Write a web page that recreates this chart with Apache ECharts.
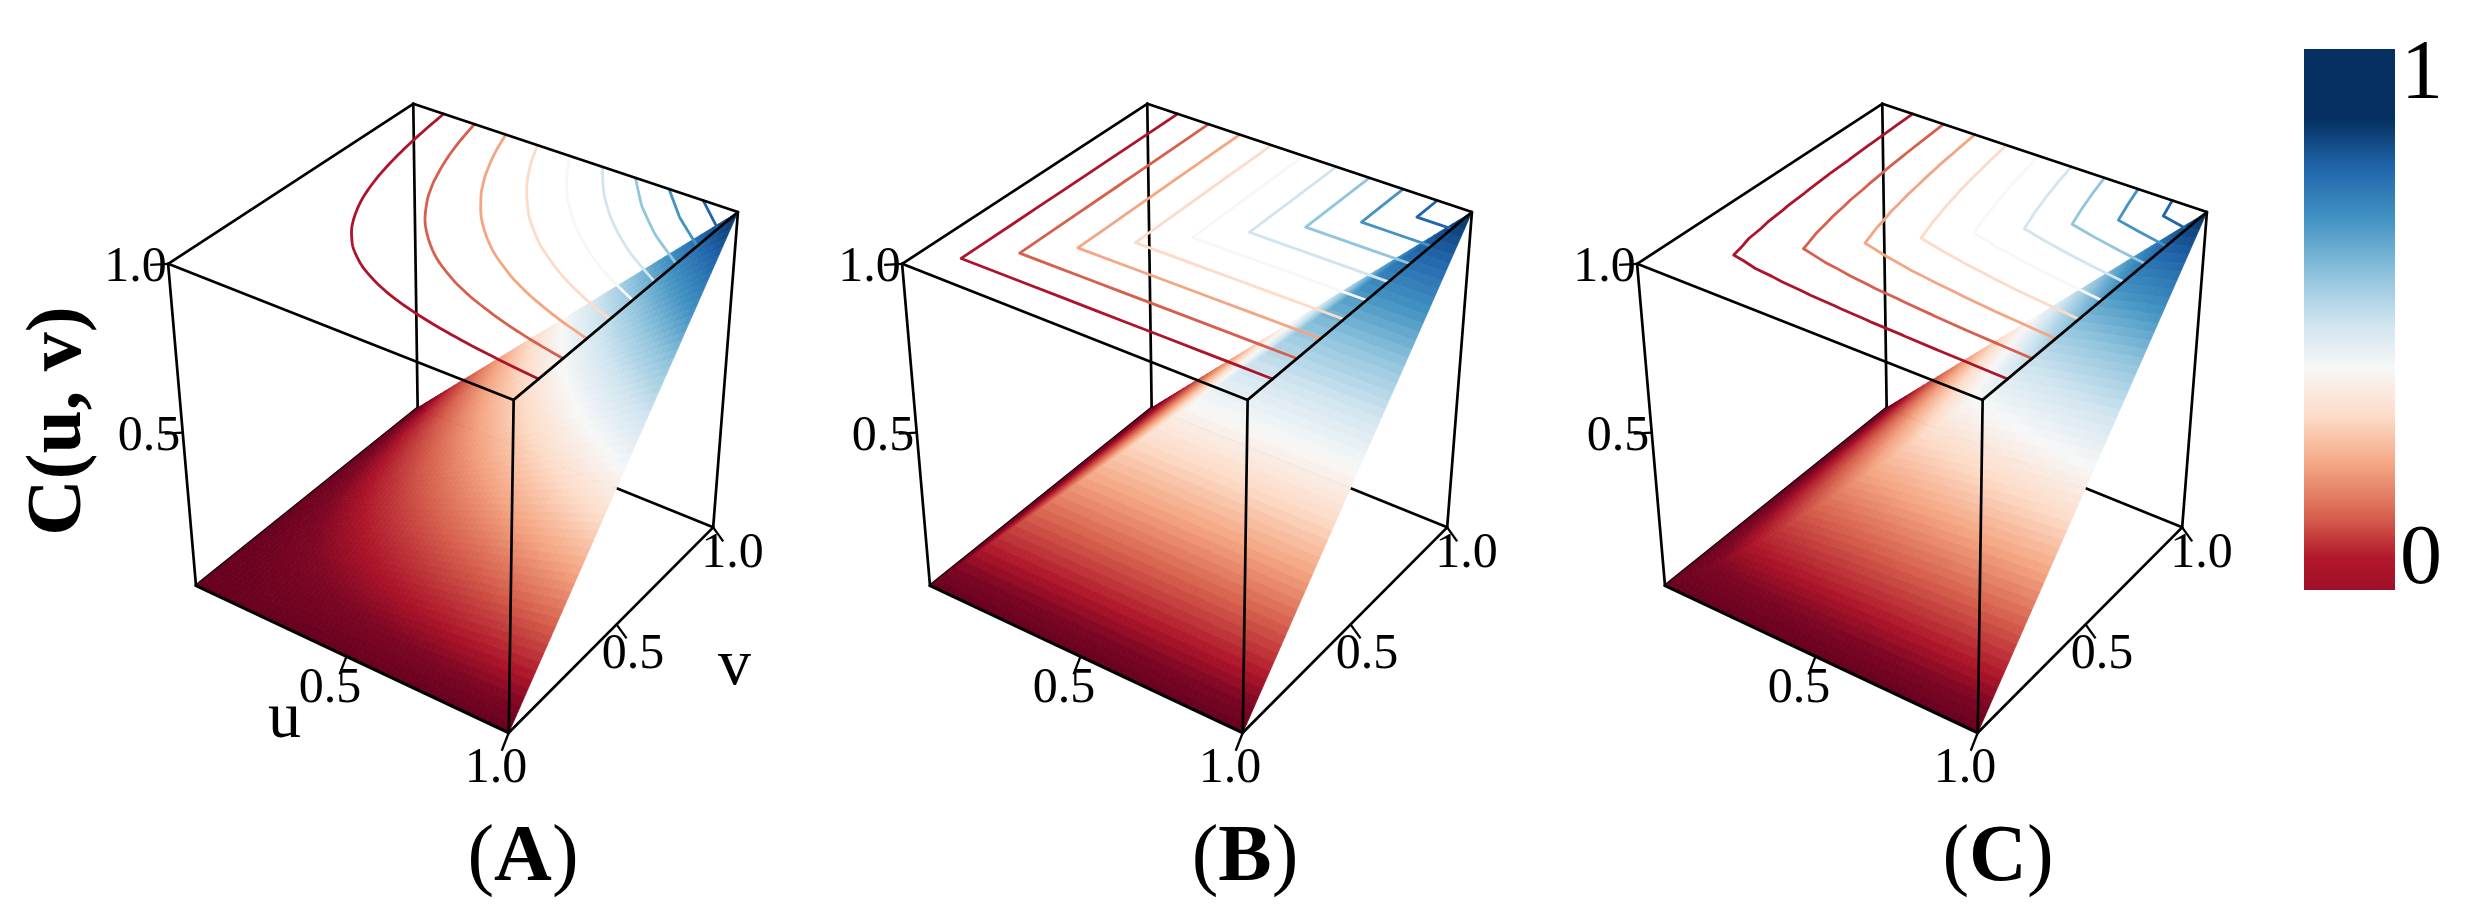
<!DOCTYPE html>
<html><head><meta charset="utf-8">
<style>html,body{margin:0;padding:0;background:#fff}#c{width:2473px;height:924px}</style>
<script src="https://cdn.jsdelivr.net/npm/echarts@6/dist/echarts.min.js"></script>
</head><body><div id="c"></div>
<script>
// ---------- data ----------
const gridAxis=[0,0.1,0.2,0.3,0.4,0.5,0.6,0.7,0.8,0.9,1];
const contourLevels=[0.1,0.2,0.3,0.4,0.5,0.6,0.7,0.8,0.9];
const surfaceA=[
[0,0,0,0,0,0,0,0,0,0,0],
[0,0.01,0.02,0.03,0.04,0.05,0.06,0.07,0.08,0.09,0.1],
[0,0.02,0.04,0.06,0.08,0.1,0.12,0.14,0.16,0.18,0.2],
[0,0.03,0.06,0.09,0.12,0.15,0.18,0.21,0.24,0.27,0.3],
[0,0.04,0.08,0.12,0.16,0.2,0.24,0.28,0.32,0.36,0.4],
[0,0.05,0.1,0.15,0.2,0.25,0.3,0.35,0.4,0.45,0.5],
[0,0.06,0.12,0.18,0.24,0.3,0.36,0.42,0.48,0.54,0.6],
[0,0.07,0.14,0.21,0.28,0.35,0.42,0.49,0.56,0.63,0.7],
[0,0.08,0.16,0.24,0.32,0.4,0.48,0.56,0.64,0.72,0.8],
[0,0.09,0.18,0.27,0.36,0.45,0.54,0.63,0.72,0.81,0.9],
[0,0.1,0.2,0.3,0.4,0.5,0.6,0.7,0.8,0.9,1]];
const surfaceB=[
[0,0,0,0,0,0,0,0,0,0,0],
[0,0.1,0.1,0.1,0.1,0.1,0.1,0.1,0.1,0.1,0.1],
[0,0.1,0.2,0.2,0.2,0.2,0.2,0.2,0.2,0.2,0.2],
[0,0.1,0.2,0.3,0.3,0.3,0.3,0.3,0.3,0.3,0.3],
[0,0.1,0.2,0.3,0.4,0.4,0.4,0.4,0.4,0.4,0.4],
[0,0.1,0.2,0.3,0.4,0.5,0.5,0.5,0.5,0.5,0.5],
[0,0.1,0.2,0.3,0.4,0.5,0.6,0.6,0.6,0.6,0.6],
[0,0.1,0.2,0.3,0.4,0.5,0.6,0.7,0.7,0.7,0.7],
[0,0.1,0.2,0.3,0.4,0.5,0.6,0.7,0.8,0.8,0.8],
[0,0.1,0.2,0.3,0.4,0.5,0.6,0.7,0.8,0.9,0.9],
[0,0.1,0.2,0.3,0.4,0.5,0.6,0.7,0.8,0.9,1]];
const surfaceC=[
[0,0,0,0,0,0,0,0,0,0,0],
[0,0.052,0.064,0.071,0.077,0.082,0.087,0.09,0.094,0.097,0.1],
[0,0.064,0.127,0.143,0.155,0.165,0.173,0.181,0.188,0.194,0.2],
[0,0.071,0.143,0.214,0.232,0.247,0.26,0.271,0.282,0.291,0.3],
[0,0.077,0.155,0.232,0.309,0.329,0.347,0.362,0.376,0.388,0.4],
[0,0.082,0.165,0.247,0.329,0.412,0.433,0.452,0.47,0.485,0.5],
[0,0.087,0.173,0.26,0.347,0.433,0.52,0.543,0.564,0.583,0.6],
[0,0.09,0.181,0.271,0.362,0.452,0.543,0.633,0.658,0.68,0.7],
[0,0.094,0.188,0.282,0.376,0.47,0.564,0.658,0.752,0.777,0.8],
[0,0.097,0.194,0.291,0.388,0.485,0.583,0.68,0.777,0.874,0.9],
[0,0.1,0.2,0.3,0.4,0.5,0.6,0.7,0.8,0.9,1]];
const panelNames=['A','B','C'];
const panelSurfaces=[surfaceA,surfaceB,surfaceC];
const tickValues=[0.5,1.0];
const tickLabels=['0.5','1.0'];
const surfaceStops=[0,0.05,0.1,0.2,0.3,0.4,0.5,0.6,0.7,0.8,0.9,1];
const surfaceColors=['#67001f','#7d0623','#ac1429','#d6604d','#f4a582','#fddbc7','#f7f7f7','#d1e5f0','#92c5de','#4393c3','#2166ac','#053061'];
const colorbarStops=[0,0.06,0.134,0.23,0.32,0.41,0.49,0.578,0.685,0.78,0.87,1];
const colorbarColors=['#a00f2a','#b2182b','#d6604d','#f4a582','#fddbc7','#f7f7f7','#d1e5f0','#92c5de','#4393c3','#2166ac','#053061','#053061'];

// ---------- view calibration (the camera of each 3D box) ----------
const FONT='"Liberation Serif","Times New Roman",serif';
const panelOffset=[0,734,1469];
const contourSmooth=[true,false,false];
const calib=[[0,0,0,196,586],[1,0,0,508.5,732.5],[0,1,0,418,407],[1,1,0,713,528],
             [0,0,1,168,264],[1,0,1,514,399.5],[0,1,1,413,104],[1,1,1,738,212]];
function solveCamera(){
  const A=[],b=[];
  calib.forEach(([u,v,z,x,y])=>{
    A.push([u,v,z,1,0,0,0,0,-x*u,-x*v,-x*z]);b.push(x);
    A.push([0,0,0,0,u,v,z,1,-y*u,-y*v,-y*z]);b.push(y);
  });
  const n=11,M=[];
  for(let i=0;i<n;i++){M[i]=[];for(let j=0;j<=n;j++){let s=0;
    for(let k=0;k<A.length;k++)s+=A[k][i]*(j<n?A[k][j]:b[k]);M[i][j]=s;}}
  for(let i=0;i<n;i++){let p=i;for(let r=i+1;r<n;r++)if(Math.abs(M[r][i])>Math.abs(M[p][i]))p=r;
    [M[i],M[p]]=[M[p],M[i]];
    for(let r=0;r<n;r++){if(r===i)continue;const f=M[r][i]/M[i][i];for(let c=i;c<=n;c++)M[r][c]-=f*M[i][c];}}
  return M.map((r,i)=>r[n]/r[i]);
}
const cam=solveCamera();
function project(p,u,v,z){
  const w=cam[8]*u+cam[9]*v+cam[10]*z+1;
  return [(cam[0]*u+cam[1]*v+cam[2]*z+cam[3])/w+panelOffset[p],(cam[4]*u+cam[5]*v+cam[6]*z+cam[7])/w];
}
// ---------- colour ----------
function hex(c){return [1,3,5].map(i=>parseInt(c.substr(i,2),16));}
const rgbStops=surfaceColors.map(hex);
function colorOf(t){
  t=Math.max(0,Math.min(1,t));
  let i=0;while(i<surfaceStops.length-2&&t>surfaceStops[i+1])i++;
  const f=(t-surfaceStops[i])/(surfaceStops[i+1]-surfaceStops[i]),a=rgbStops[i],b=rgbStops[i+1];
  return 'rgb('+a.map((x,k)=>Math.round(x+(b[k]-x)*f)).join(',')+')';
}
// ---------- surface value inside a grid cell, split along its u=v diagonal ----------
function cellValue(S,i,j,s,t){
  const z00=S[j][i],z10=S[j][i+1],z01=S[j+1][i],z11=S[j+1][i+1];
  return s>=t? z00+s*(z10-z00)+t*(z11-z10) : z00+t*(z01-z00)+s*(z11-z01);
}
const SUB=6;
const n=gridAxis.length-1;
const cells=[];
for(let j=n-1;j>=0;j--)for(let i=0;i<n;i++)cells.push([i,j]);

function surfaceSeries(p){
  const S=panelSurfaces[p];
  return {type:'custom',coordinateSystem:'cartesian2d',silent:true,animation:false,progressive:0,clip:false,z:3,data:cells,
   renderItem(params,api){
     const i=api.value(0),j=api.value(1),u0=gridAxis[i],v0=gridAxis[j],du=gridAxis[i+1]-u0,dv=gridAxis[j+1]-v0;
     const children=[];
     for(let b=SUB-1;b>=0;b--)for(let a=0;a<SUB;a++){
       const sq=[[a,b],[a+1,b],[a+1,b+1],[a,b+1]];
       const pts=sq.map(([x,y])=>{const s=x/SUB,t=y/SUB;
         return api.coord(project(p,u0+s*du,v0+t*dv,cellValue(S,i,j,s,t)));});
       const col=colorOf(cellValue(S,i,j,(a+.5)/SUB,(b+.5)/SUB));
       children.push({type:'polygon',silent:true,shape:{points:pts},style:{fill:col,stroke:col,lineWidth:0.8}});
     }
     return {type:'group',children};
   }};
}
function contourLines(S,L,gridOnly){
  const segs=[];
  const cross=(A,B)=>{ if((A[2]<L)===(B[2]<L))return null; const f=(L-A[2])/(B[2]-A[2]); return [A[0]+f*(B[0]-A[0]),A[1]+f*(B[1]-A[1])]; };
  for(let j=0;j<n;j++)for(let i=0;i<n;i++){
    const P=(a,b)=>[gridAxis[a],gridAxis[b],S[b][a]];
    [[P(i,j),P(i+1,j),P(i+1,j+1)],[P(i,j),P(i+1,j+1),P(i,j+1)]].forEach(T=>{
      const h=[cross(T[0],T[1]),cross(T[1],T[2]),cross(T[2],T[0])].filter(Boolean);
      if(h.length===2&&(Math.abs(h[0][0]-h[1][0])+Math.abs(h[0][1]-h[1][1])>1e-9))segs.push(h);
    });
  }
  const key=q=>q[0].toFixed(6)+','+q[1].toFixed(6);
  const ends={};
  segs.forEach((s,k)=>{[0,1].forEach(e=>{(ends[key(s[e])]=ends[key(s[e])]||[]).push([k,e]);});});
  const used=segs.map(()=>false),lines=[];
  const walk=(k,e)=>{
    const line=[segs[k][e]];
    while(true){
      used[k]=true;
      const tip=segs[k][1-e];
      line.push(tip);
      const nx=ends[key(tip)].find(([m])=>!used[m]);
      if(!nx)break;
      k=nx[0];e=nx[1];
    }
    return line;
  };
  segs.forEach((s,k)=>{ if(used[k])return;
    [0,1].forEach(e=>{ if(!used[k]&&ends[key(s[e])].length===1)lines.push(walk(k,e)); });
  });
  segs.forEach((s,k)=>{ if(!used[k])lines.push(walk(k,0)); });
  return gridOnly?lines.map(roundCurve):lines;
}
// draws a traced contour as a rounded curve through its crossings on the grid lines
function roundCurve(line){
  const onGrid=q=>q.some(c=>Math.abs(c*10-Math.round(c*10))<1e-6);
  const P=line.filter((q,i)=>i===0||i===line.length-1||onGrid(q));
  if(P.length<3)return P;
  const T=[0];for(let i=1;i<P.length;i++)T[i]=T[i-1]+Math.hypot(P[i][0]-P[i-1][0],P[i][1]-P[i-1][1]);
  const tan=i=>{const a=Math.max(0,i-1),b=Math.min(P.length-1,i+1),d=T[b]-T[a];return [(P[b][0]-P[a][0])/d,(P[b][1]-P[a][1])/d];};
  const out=[P[0]];
  for(let i=0;i<P.length-1;i++){
    const h=T[i+1]-T[i],m0=tan(i),m1=tan(i+1);
    for(let k=1;k<=6;k++){const s=k/6,s2=s*s,s3=s2*s;
      const h00=2*s3-3*s2+1,h10=s3-2*s2+s,h01=-2*s3+3*s2,h11=s3-s2;
      out.push([0,1].map(c=>h00*P[i][c]+h10*h*m0[c]+h01*P[i+1][c]+h11*h*m1[c]));}
  }
  return out;
}
function contourSeries(p){
  const S=panelSurfaces[p];
  return {type:'custom',coordinateSystem:'cartesian2d',silent:true,animation:false,clip:false,z:4,
    data:contourLevels.map(l=>[l,0]),
    renderItem(params,api){
      const L=contourLevels[params.dataIndex],col=colorOf(L);
      return {type:'group',children:contourLines(S,L,contourSmooth[p]).map(line=>({
        type:'polyline',silent:true,
        shape:{points:line.map(q=>api.coord(project(p,q[0],q[1],1)))},
        style:{stroke:col,fill:'none',lineWidth:2.8,lineCap:'round',lineJoin:'round'}
      }))};
    }};
}
// ---------- wire box ----------
const backEdges=[[0,1,1,0,1,0],[0,1,0,1,1,0],[0,0,0,0,1,0]];
const frontEdges=[[0,0,1,1,0,1],[1,0,1,1,1,1],[1,1,1,0,1,1],[0,1,1,0,0,1],
                  [0,0,0,0,0,1],[1,0,0,1,0,1],[1,1,0,1,1,1],[1,0,0,1,1,0],[0,0,0,1,0,0]];
function edgeSeries(p,edges,z){
  return {type:'custom',coordinateSystem:'cartesian2d',silent:true,animation:false,clip:false,z,data:edges,
    renderItem(params,api){
      const e=edges[params.dataIndex],a=api.coord(project(p,e[0],e[1],e[2])),b=api.coord(project(p,e[3],e[4],e[5]));
      const heavy=e[1]===0&&e[2]===0&&e[4]===0&&e[5]===0;
      return {type:'line',silent:true,shape:{x1:a[0],y1:a[1],x2:b[0],y2:b[1]},style:{stroke:'#000',lineWidth:heavy?3.2:2.7,lineCap:'round'}};
    }};
}
// ---------- ticks and tick labels ----------
const tickStyle={z:{dx:-18,dy:1},u:{dx:-7,dy:18},v:{dx:10,dy:14}};
const labelSpots={z:[[149,436.5],[135.5,268]],u:[[330,688.5],[496,768.5]],v:[[633,654.5],[732.5,554]]};
function axisPoint(p,axis,val){
  return axis==='z'?project(p,0,0,val):axis==='u'?project(p,val,0,0):project(p,1,val,0);
}
function tickSeries(p){
  const items=[];
  ['z','u','v'].forEach(ax=>tickValues.forEach((val,k)=>items.push([ax==='z'?0:ax==='u'?1:2,k])));
  const axes=['z','u','v'];
  return {type:'custom',coordinateSystem:'cartesian2d',silent:true,animation:false,clip:false,z:6,data:items,
    renderItem(params,api){
      const ax=axes[items[params.dataIndex][0]],k=items[params.dataIndex][1],st=tickStyle[ax];
      const q=axisPoint(p,ax,tickValues[k]),a=api.coord(q),b=api.coord([q[0]+st.dx,q[1]+st.dy]);
      const lx=labelSpots[ax][k];
      const c=api.coord([panelOffset[p]+lx[0],lx[1]]);
      return {type:'group',children:[
        {type:'text',silent:true,x:c[0],y:c[1],style:{text:tickLabels[k],font:'50px '+FONT,fill:'#000',align:'center',verticalAlign:'middle'}},
        {type:'line',silent:true,shape:{x1:a[0],y1:a[1],x2:b[0],y2:b[1]},style:{stroke:'#000',lineWidth:2.3}}
      ]};
    }};
}
// ---------- free text ----------
const textItems=[
 {t:'u',x:284.5,y:720,font:'66px '+FONT},
 {t:'v',x:734.5,y:667,font:'66px '+FONT},
 {t:'C(u, v)',x:60,y:421,font:'bold 78px '+FONT,rot:Math.PI/2},
 {t:'1',x:2422,y:76,font:'84px '+FONT},
 {t:'0',x:2421,y:561,font:'84px '+FONT},
 {t:'({b|A})',x:523,y:859,font:'80px '+FONT},
 {t:'({b|B})',x:1245,y:859,font:'80px '+FONT},
 {t:'({b|C})',x:1998,y:859,font:'80px '+FONT}
];
const textSeries={type:'custom',coordinateSystem:'cartesian2d',silent:true,animation:false,clip:false,z:7,data:textItems.map((d,i)=>[i,0]),
  renderItem(params,api){
    const d=textItems[params.dataIndex],c=api.coord([d.x,d.y]);
    return {type:'text',silent:true,x:c[0],y:c[1],rotation:d.rot||0,
      style:{text:d.t,font:d.font,fill:'#000',align:'center',verticalAlign:'middle',
        rich:{b:{font:'bold 80px '+FONT,fill:'#000',verticalAlign:'middle'}}}};
  }};
// ---------- colour bar ----------
const barSeries={type:'custom',coordinateSystem:'cartesian2d',silent:true,animation:false,clip:false,z:2,data:[[0,1]],
  renderItem(params,api){
    const a=api.coord([2304,49]),b=api.coord([2395,590]);
    return {type:'rect',silent:true,shape:{x:a[0],y:a[1],width:b[0]-a[0],height:b[1]-a[1]},
      style:{fill:new echarts.graphic.LinearGradient(0,1,0,0,colorbarStops.map((s,i)=>({offset:s,color:colorbarColors[i]})))}};
  }};

const series=[barSeries];
panelNames.forEach((nm,p)=>{
  series.push(edgeSeries(p,backEdges,1),surfaceSeries(p),contourSeries(p),edgeSeries(p,frontEdges,5),tickSeries(p));
});
series.push(textSeries);

const chart=echarts.init(document.getElementById('c'),null,{renderer:'canvas',width:2473,height:924});
chart.setOption({
  backgroundColor:'#fff',animation:false,tooltip:{show:false},
  grid:{left:0,right:0,top:0,bottom:0},
  xAxis:{type:'value',min:0,max:2473,show:false},
  yAxis:{type:'value',min:0,max:924,inverse:true,show:false},
  series
});
</script></body></html>
